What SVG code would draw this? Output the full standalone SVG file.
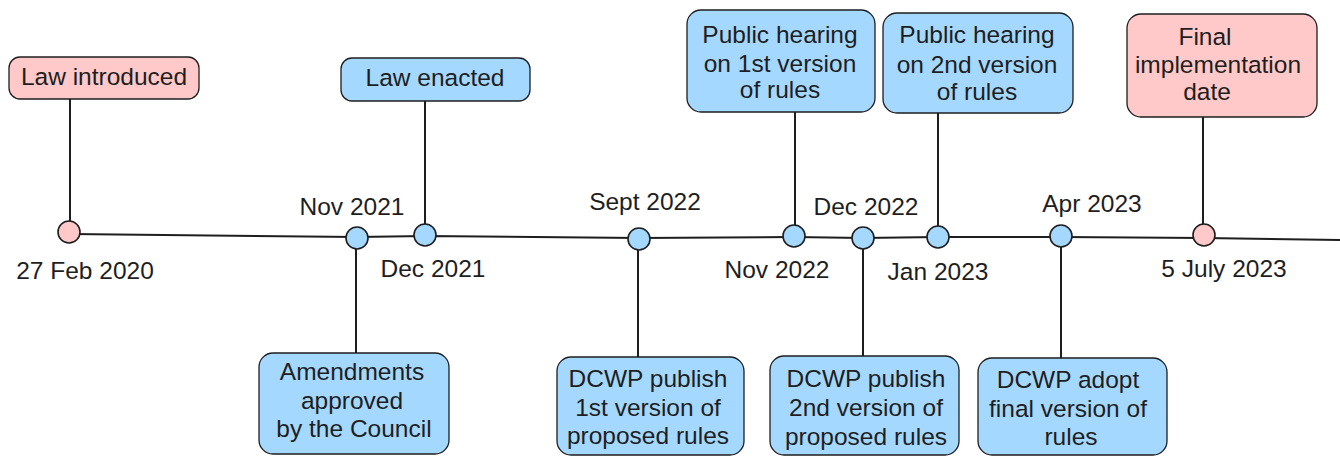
<svg xmlns="http://www.w3.org/2000/svg" width="1340" height="457" viewBox="0 0 1340 457">
<style>
text{font-family:"Liberation Sans",Arial,sans-serif;font-size:24.5px;fill:#1e1e1e;text-anchor:middle}
.box{stroke:#1e1e1e;stroke-width:1.3}
.pink{fill:#ffc9c9}
.blue{fill:#a5d8ff}
.dot{stroke:#1e1e1e;stroke-width:1.6}
.conn{stroke:#1e1e1e;stroke-width:2;fill:none;stroke-linecap:round}
</style>
<rect width="1340" height="457" fill="#ffffff"/>
<g id="connectors">
<path class="conn" d="M70,234 L357,237 L425,236 L639,238 L794,237 L863,238 L938,237 L1061,237 L1204,238 L1340,240"/>
<path class="conn" d="M70,99 L70,221"/>
<path class="conn" d="M425,101 L425,224"/>
<path class="conn" d="M356,249 L356,353"/>
<path class="conn" d="M638,250 L638,357"/>
<path class="conn" d="M795,112 L795,225"/>
<path class="conn" d="M863,249 L863,356"/>
<path class="conn" d="M938,113 L938,226"/>
<path class="conn" d="M1061,247 L1061,358"/>
<path class="conn" d="M1203,117 L1203,224"/>
</g>
<g id="dots">
<circle class="dot pink" cx="69" cy="232" r="11"/>
<circle class="dot blue" cx="357" cy="238" r="11"/>
<circle class="dot blue" cx="425" cy="235" r="11"/>
<circle class="dot blue" cx="639" cy="239" r="11"/>
<circle class="dot blue" cx="794" cy="236" r="11"/>
<circle class="dot blue" cx="863" cy="238" r="11"/>
<circle class="dot blue" cx="938" cy="237" r="11"/>
<circle class="dot blue" cx="1061" cy="236" r="11"/>
<circle class="dot pink" cx="1204" cy="235" r="11"/>
</g>
<g id="dates">
<text x="85" y="279">27 Feb 2020</text>
<text x="352" y="215">Nov 2021</text>
<text x="433" y="277">Dec 2021</text>
<text x="645" y="210">Sept 2022</text>
<text x="777" y="278">Nov 2022</text>
<text x="866" y="215">Dec 2022</text>
<text x="938" y="280">Jan 2023</text>
<text x="1092" y="212">Apr 2023</text>
<text x="1224" y="277">5 July 2023</text>
</g>
<g id="law-introduced">
<rect class="box pink" x="9" y="57" width="190" height="42" rx="11"/>
<text x="104" y="85">Law introduced</text>
</g>
<g id="law-enacted">
<rect class="box blue" x="341" y="58" width="189" height="43" rx="11"/>
<text x="435" y="86">Law enacted</text>
</g>
<g id="amendments">
<rect class="box blue" x="259" y="353" width="190" height="101" rx="14"/>
<text x="352" y="380">Amendments</text>
<text x="352" y="409">approved</text>
<text x="354" y="437">by the Council</text>
</g>
<g id="dcwp-publish-1">
<rect class="box blue" x="557" y="357" width="187" height="98" rx="14"/>
<text x="648" y="387">DCWP publish</text>
<text x="648" y="416">1st version of</text>
<text x="648" y="444">proposed rules</text>
</g>
<g id="hearing-1">
<rect class="box blue" x="687" y="10" width="188" height="102" rx="14"/>
<text x="780" y="43">Public hearing</text>
<text x="780" y="72">on 1st version</text>
<text x="780" y="98">of rules</text>
</g>
<g id="dcwp-publish-2">
<rect class="box blue" x="770" y="356" width="189" height="99" rx="14"/>
<text x="866" y="387">DCWP publish</text>
<text x="866" y="416">2nd version of</text>
<text x="866" y="445">proposed rules</text>
</g>
<g id="hearing-2">
<rect class="box blue" x="883" y="13" width="190" height="100" rx="14"/>
<text x="977" y="43">Public hearing</text>
<text x="977" y="73">on 2nd version</text>
<text x="977" y="100">of rules</text>
</g>
<g id="dcwp-adopt">
<rect class="box blue" x="978" y="358" width="189" height="97" rx="14"/>
<text x="1068" y="388">DCWP adopt</text>
<text x="1068" y="417">final version of</text>
<text x="1071" y="445">rules</text>
</g>
<g id="final-implementation">
<rect class="box pink" x="1127" y="14" width="190" height="103" rx="14"/>
<text x="1205" y="45">Final</text>
<text x="1218" y="73">implementation</text>
<text x="1207" y="100">date</text>
</g>
</svg>
